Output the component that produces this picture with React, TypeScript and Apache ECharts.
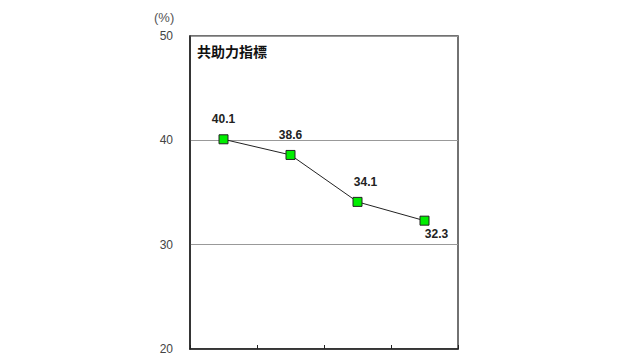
import React, { useEffect, useRef } from "react";
import * as echarts from "echarts";

const categories = ["A", "B", "C", "D"];
const values = [40.1, 38.6, 34.1, 32.3];
const labelOffsets: [number, number][] = [[0, 0], [0, 0], [8, 0], [12, 0]];
const labelPositions = ["top", "top", "top", "bottom"];
const yTicks = [20, 30, 40, 50];

export default function App() {
  const ref = useRef<HTMLDivElement>(null);
  useEffect(() => {
    const chart = echarts.init(ref.current!, null, { renderer: "svg" });
    chart.setOption({
      animation: false,
      textStyle: { fontFamily: "Liberation Sans, Arial, sans-serif" },
      grid: {
        left: 190,
        right: 182,
        top: 36,
        bottom: 11,
        show: true,
        borderColor: "#444",
        borderWidth: 1.5,
      },
      graphic: [
        {
          type: "text",
          left: 154,
          top: 11,
          style: { text: "(%)", fontSize: 13, fill: "#555", fontFamily: "Liberation Sans, Arial, sans-serif" },
        },
        {
          type: "text",
          left: 197,
          top: 44,
          style: {
            text: "共助力指標",
            fontSize: 14,
            fontWeight: "bold",
            fill: "#111",
            fontFamily: "Noto Sans CJK JP, sans-serif",
          },
        },
      ],
      xAxis: {
        type: "category",
        data: categories,
        boundaryGap: true,
        axisLine: { lineStyle: { color: "#222", width: 1.5 } },
        axisTick: { show: true, inside: true, length: 4, lineStyle: { color: "#222" } },
        axisLabel: { show: false },
      },
      yAxis: {
        type: "value",
        min: yTicks[0],
        max: yTicks[yTicks.length - 1],
        interval: 10,
        axisLine: { show: true, lineStyle: { color: "#222", width: 1.5 } },
        axisTick: { show: false },
        axisLabel: { color: "#444", fontSize: 12, margin: 17 },
        splitLine: { lineStyle: { color: "#999", width: 1 } },
      },
      series: [
        {
          type: "line",
          data: values.map((v, i) => ({
            value: v,
            label: {
              show: true,
              position: labelPositions[i],
              offset: labelOffsets[i],
              distance: i === 3 ? 2 : 9,
            },
          })),
          symbol: "rect",
          symbolSize: 9,
          itemStyle: { color: "#00ee00", borderColor: "#222", borderWidth: 1 },
          lineStyle: { color: "#222", width: 1 },
          label: {
            show: true,
            fontSize: 12,
            fontWeight: "bold",
            color: "#222",
            formatter: (p: any) => p.value.toFixed(1),
          },
        },
      ],
    });
    return () => chart.dispose();
  }, []);
  return <div ref={ref} style={{ width: 640, height: 360, position: "absolute", left: 0, top: 0 }} />;
}
